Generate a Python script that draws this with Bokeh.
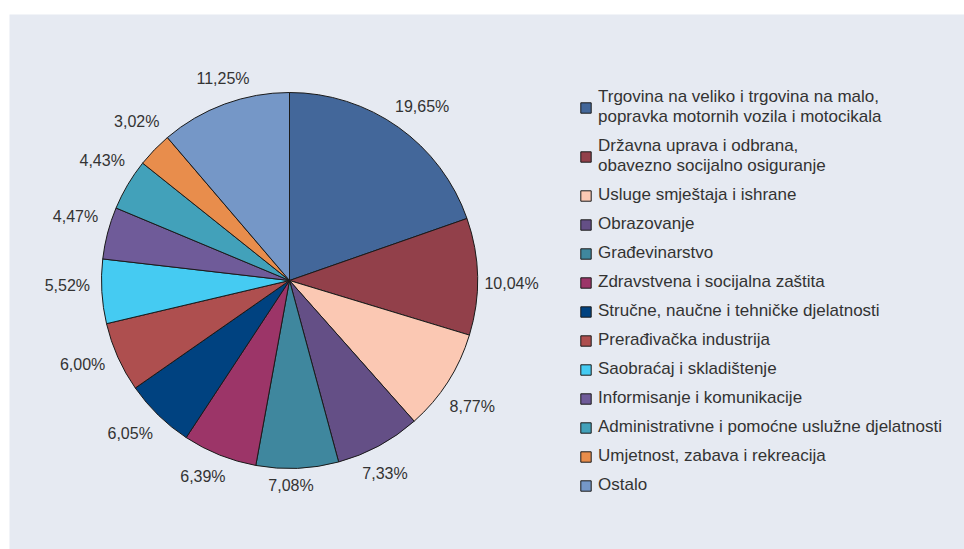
import math
from bokeh.plotting import figure
from bokeh.models import ColumnDataSource, Range1d, Legend, LegendItem
from bokeh.embed import file_html
from bokeh.resources import INLINE

categories = [
    "Trgovina na veliko i trgovina na malo,\npopravka motornih vozila i motocikala",
    "Državna uprava i odbrana,\nobavezno socijalno osiguranje",
    "Usluge smještaja i ishrane",
    "Obrazovanje",
    "Građevinarstvo",
    "Zdravstvena i socijalna zaštita",
    "Stručne, naučne i tehničke djelatnosti",
    "Prerađivačka industrija",
    "Saobraćaj i skladištenje",
    "Informisanje i komunikacije",
    "Administrativne i pomoćne uslužne djelatnosti",
    "Umjetnost, zabava i rekreacija",
    "Ostalo",
]
shares = [19.65, 10.04, 8.77, 7.33, 7.08, 6.39, 6.05, 6.00, 5.52, 4.47, 4.43, 3.02, 11.25]
colors = ["#43679a", "#92404a", "#fbc8b3", "#644f86", "#3f879e", "#9c3568", "#004280",
          "#ae4f4f", "#45cbf2", "#6f5b99", "#42a1ba", "#e88d4c", "#7597c7"]

FONT = "'Liberation Sans', Arial, sans-serif"
TEXT_COLOR = "#333333"
PANEL = "#e6eaf2"

W, H = 955, 535  # frame size in px; data units == px
p = figure(width=964, height=549, output_backend="svg", toolbar_location=None,
           x_range=Range1d(0, W), y_range=Range1d(0, H),
           min_border_left=9, min_border_top=14, min_border_right=0, min_border_bottom=0,
           background_fill_color=PANEL, border_fill_color="white")
p.axis.visible = False
p.grid.visible = False
p.outline_line_color = None

cx, cy, R = 280, 269, 188
total = sum(shares)
starts, ends, mids = [], [], []
acc = 0.0
for s in shares:
    a0 = acc / total
    acc += s
    a1 = acc / total
    starts.append(math.pi / 2 - 2 * math.pi * a0)
    ends.append(math.pi / 2 - 2 * math.pi * a1)
    mids.append(2 * math.pi * (a0 + a1) / 2)  # clockwise from top

src = ColumnDataSource(dict(
    x=[cx] * len(shares), y=[cy] * len(shares),
    start=starts, end=ends, color=colors, label=categories,
))
r = p.wedge(x="x", y="y", radius=R, start_angle="start", end_angle="end",
            direction="clock", fill_color="color", line_color="#1a1a1a",
            line_width=1, source=src)

# percentage labels around the pie
lw, lh, gap, rot = 52, 17, 8, math.radians(2)
lx, ly, lt = [], [], []
for s, th in zip(shares, mids):
    t = th + rot
    rc = R + gap + (lw / 2) * abs(math.sin(t)) + (lh / 2) * abs(math.cos(t))
    lx.append(cx + rc * math.sin(t))
    ly.append(cy + rc * math.cos(t))
    lt.append(f"{s:.2f}".replace(".", ",") + "%")
p.text(x=lx, y=ly, text=lt, text_align="center", text_baseline="middle",
       text_font_size="16px", text_color=TEXT_COLOR, text_font={"value": FONT})

items = [LegendItem(label=c, renderers=[r], index=i) for i, c in enumerate(categories)]
legend = Legend(items=items, location=(570, 54), orientation="vertical",
                background_fill_alpha=0, border_line_alpha=0, padding=0, margin=0,
                spacing=9, glyph_width=13, glyph_height=13, label_height=20,
                label_standoff=6, label_text_font=FONT, label_text_font_size="17px",
                label_text_color=TEXT_COLOR, label_text_line_height=1.25)
p.add_layout(legend)

open("out.html", "w").write(file_html(p, INLINE))
